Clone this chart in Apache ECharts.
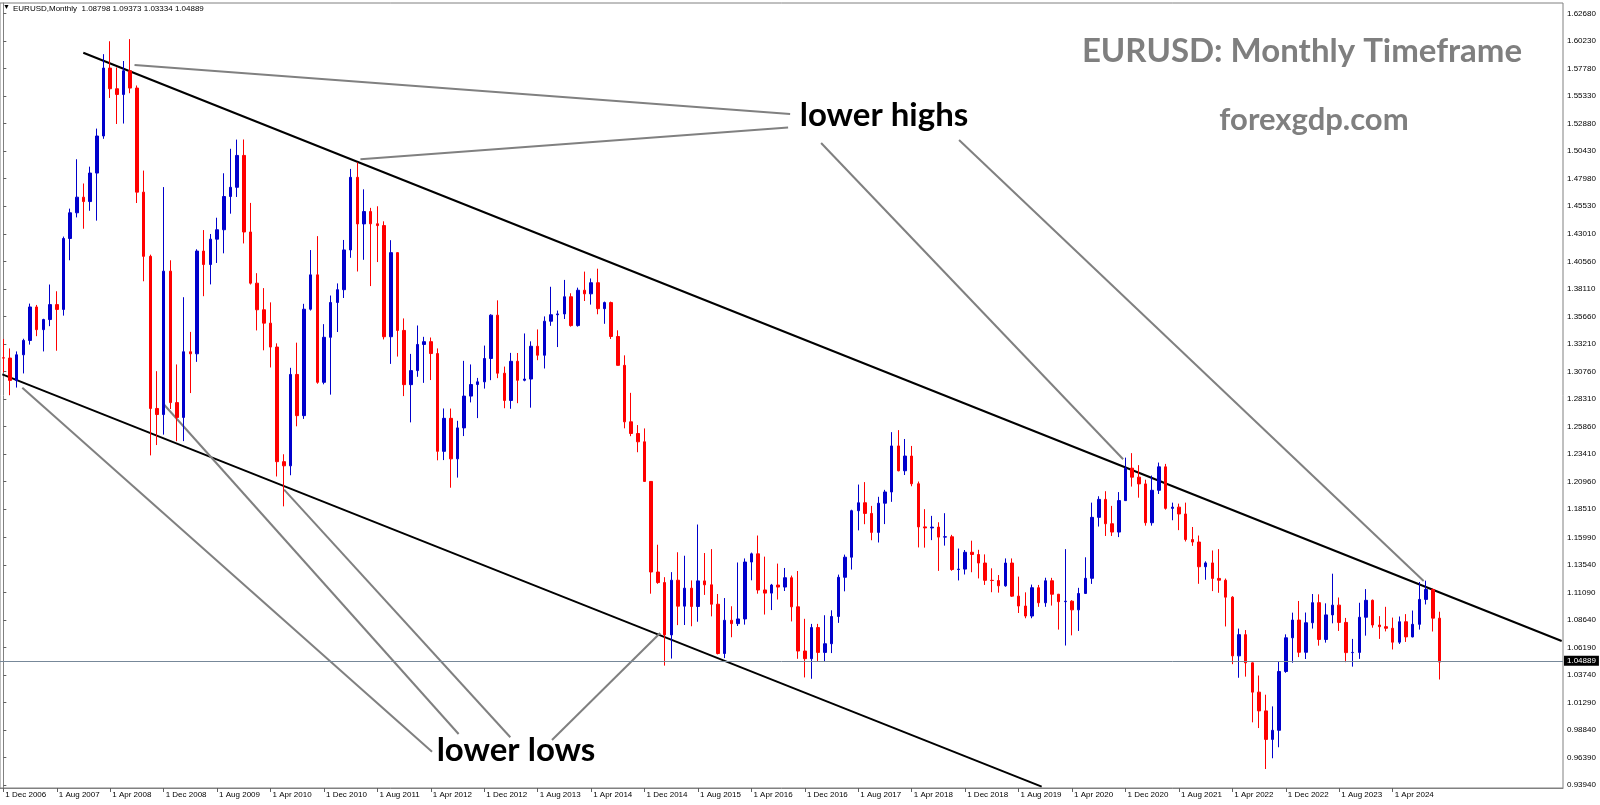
<!DOCTYPE html>
<html><head><meta charset="utf-8">
<script src="https://cdn.jsdelivr.net/npm/echarts@6/dist/echarts.min.js"></script>
<style>html,body{margin:0;padding:0;background:#fff;}#c{width:1600px;height:805px;}</style>
</head><body><div id="c"></div>
<script>
// ---------- data ----------
const monthNames = ['Jan','Feb','Mar','Apr','May','Jun','Jul','Aug','Sep','Oct','Nov','Dec'];
const firstYear = 2006, firstMonth = 11;   // Dec 2006
const slotCount = 234;                      // months shown on the time axis (incl. empty right margin)
const categories = [];
for (let i = 0; i < slotCount; i++) {
  const m = (firstMonth + i) % 12, y = firstYear + Math.floor((firstMonth + i) / 12);
  categories.push('1 ' + monthNames[m] + ' ' + y);
}
// monthly EURUSD [open, high, low, close], Dec 2006 .. Nov 2024
const ohlc = [
[1.3199,1.3367,1.3068,1.3197],
[1.3197,1.3283,1.2866,1.2998],[1.2998,1.3256,1.2934,1.3226],[1.3226,1.3369,1.3060,1.3354],[1.3354,1.3682,1.3317,1.3652],
[1.3652,1.3670,1.3392,1.3450],[1.3450,1.3547,1.3256,1.3540],[1.3540,1.3852,1.3481,1.3673],[1.3673,1.3792,1.3262,1.3630],
[1.3630,1.4279,1.3575,1.4262],[1.4262,1.4528,1.4068,1.4491],[1.4491,1.4968,1.4450,1.4630],[1.4630,1.4752,1.4349,1.4591],
[1.4591,1.4902,1.4509,1.4845],[1.4845,1.5241,1.4421,1.5175],[1.5175,1.5904,1.5150,1.5780],[1.5780,1.6019,1.5514,1.5596],
[1.5596,1.5785,1.5282,1.5545],[1.5545,1.5843,1.5286,1.5756],[1.5756,1.6038,1.5556,1.5602],[1.5602,1.5625,1.4578,1.4675],
[1.4675,1.4867,1.3881,1.4103],[1.4103,1.4118,1.2330,1.2748],[1.2748,1.3080,1.2422,1.2694],[1.2694,1.4720,1.2515,1.3971],
[1.3971,1.4068,1.2743,1.2800],[1.2800,1.3140,1.2456,1.2668],[1.2668,1.3739,1.2457,1.3253],[1.3253,1.3430,1.2885,1.3235],
[1.3235,1.4166,1.3163,1.4150],[1.4150,1.4337,1.3748,1.4030],[1.4030,1.4302,1.3853,1.4256],[1.4256,1.4447,1.4044,1.4340],
[1.4340,1.4843,1.4130,1.4636],[1.4636,1.5061,1.4483,1.4718],[1.4718,1.5143,1.4632,1.5002],[1.5002,1.5144,1.4218,1.4320],
[1.4320,1.4579,1.3852,1.3864],[1.3864,1.3953,1.3443,1.3627],[1.3627,1.3820,1.3266,1.3508],[1.3508,1.3693,1.3113,1.3295],
[1.3295,1.3328,1.2142,1.2274],[1.2274,1.2340,1.1876,1.2237],[1.2237,1.3110,1.2153,1.3051],[1.3051,1.3334,1.2589,1.2684],
[1.2684,1.3680,1.2655,1.3632],[1.3632,1.4159,1.3620,1.3938],[1.3938,1.4283,1.2968,1.2981],[1.2981,1.3499,1.2963,1.3382],
[1.3382,1.3754,1.2871,1.3692],[1.3692,1.3862,1.3429,1.3806],[1.3806,1.4249,1.3732,1.4160],[1.4160,1.4882,1.4090,1.4807],
[1.4807,1.4940,1.3968,1.4392],[1.4392,1.4700,1.4072,1.4502],[1.4502,1.4535,1.3838,1.4393],[1.4393,1.4549,1.4052,1.4377],
[1.4377,1.4415,1.3363,1.3387],[1.3387,1.4247,1.3145,1.4136],[1.4136,1.4140,1.3210,1.3443],[1.3443,1.3550,1.2858,1.2960],
[1.2960,1.3234,1.2624,1.3085],[1.3085,1.3487,1.3030,1.3318],[1.3318,1.3386,1.2976,1.3343],[1.3343,1.3380,1.3001,1.3237],
[1.3237,1.3283,1.2286,1.2366],[1.2366,1.2748,1.2288,1.2660],[1.2660,1.2747,1.2042,1.2299],[1.2299,1.2638,1.2132,1.2575],
[1.2575,1.3172,1.2502,1.2858],[1.2858,1.3140,1.2802,1.2961],[1.2961,1.3020,1.2662,1.2985],[1.2985,1.3308,1.2925,1.3193],
[1.3193,1.3587,1.3000,1.3579],[1.3579,1.3711,1.3018,1.3062],[1.3062,1.3121,1.2750,1.2819],[1.2819,1.3243,1.2745,1.3168],
[1.3168,1.3242,1.2795,1.2999],[1.2999,1.3416,1.2990,1.3010],[1.3010,1.3346,1.2755,1.3302],[1.3302,1.3452,1.3178,1.3222],
[1.3222,1.3568,1.3104,1.3525],[1.3525,1.3832,1.3484,1.3583],[1.3583,1.3620,1.3295,1.3590],[1.3590,1.3893,1.3545,1.3743],
[1.3743,1.3774,1.3477,1.3486],[1.3486,1.3824,1.3477,1.3801],[1.3801,1.3967,1.3705,1.3769],[1.3769,1.3906,1.3673,1.3868],
[1.3868,1.3993,1.3587,1.3637],[1.3637,1.3700,1.3502,1.3691],[1.3691,1.3700,1.3367,1.3389],[1.3389,1.3444,1.3130,1.3132],
[1.3132,1.3221,1.2571,1.2629],[1.2629,1.2887,1.2501,1.2525],[1.2525,1.2600,1.2358,1.2451],[1.2451,1.2570,1.2097,1.2098],
[1.2098,1.2100,1.1098,1.1291],[1.1291,1.1534,1.1186,1.1197],[1.1197,1.1245,1.0457,1.0731],[1.0731,1.1290,1.0520,1.1218],
[1.1218,1.1467,1.0818,1.0987],[1.0987,1.1436,1.0819,1.1147],[1.1147,1.1216,1.0808,1.0984],[1.0984,1.1714,1.0848,1.1212],
[1.1212,1.1460,1.1087,1.1177],[1.1177,1.1495,1.0896,1.1004],[1.1004,1.1095,1.0557,1.0565],[1.0565,1.1059,1.0524,1.0861],
[1.0861,1.0986,1.0710,1.0831],[1.0831,1.1376,1.0810,1.0873],[1.0873,1.1412,1.0822,1.1380],[1.1380,1.1464,1.1217,1.1453],
[1.1453,1.1616,1.1098,1.1131],[1.1131,1.1428,1.0912,1.1103],[1.1103,1.1185,1.0952,1.1175],[1.1175,1.1366,1.1046,1.1157],
[1.1157,1.1327,1.1122,1.1240],[1.1240,1.1259,1.0851,1.0981],[1.0981,1.1300,1.0518,1.0587],[1.0587,1.0874,1.0352,1.0519],
[1.0519,1.0829,1.0340,1.0796],[1.0796,1.0829,1.0494,1.0575],[1.0575,1.0906,1.0494,1.0652],[1.0652,1.0950,1.0569,1.0895],
[1.0895,1.1268,1.0838,1.1244],[1.1244,1.1446,1.1119,1.1423],[1.1423,1.1846,1.1313,1.1837],[1.1837,1.2070,1.1662,1.1908],
[1.1908,1.2092,1.1717,1.1813],[1.1813,1.1880,1.1574,1.1644],[1.1644,1.1961,1.1554,1.1904],[1.1904,1.2023,1.1718,1.2004],
[1.2004,1.2537,1.1916,1.2414],[1.2414,1.2555,1.2188,1.2193],[1.2193,1.2476,1.2155,1.2324],[1.2324,1.2414,1.2055,1.2077],
[1.2077,1.2097,1.1510,1.1693],[1.1693,1.1851,1.1508,1.1684],[1.1684,1.1791,1.1575,1.1691],[1.1691,1.1734,1.1301,1.1602],
[1.1602,1.1815,1.1526,1.1605],[1.1605,1.1622,1.1302,1.1313],[1.1313,1.1500,1.1216,1.1317],[1.1317,1.1487,1.1269,1.1467],
[1.1467,1.1570,1.1289,1.1447],[1.1447,1.1489,1.1234,1.1371],[1.1371,1.1448,1.1176,1.1217],[1.1217,1.1324,1.1111,1.1215],
[1.1215,1.1264,1.1107,1.1168],[1.1168,1.1412,1.1160,1.1371],[1.1371,1.1412,1.1069,1.1076],[1.1076,1.1250,1.0926,1.0988],
[1.0988,1.1110,1.0879,1.0899],[1.0899,1.1179,1.0879,1.1151],[1.1151,1.1176,1.0981,1.1017],[1.1017,1.1240,1.0981,1.1213],
[1.1213,1.1239,1.0992,1.1093],[1.1093,1.1096,1.0778,1.1027],[1.1027,1.1495,1.0636,1.1031],[1.1031,1.1040,1.0727,1.0954],
[1.0954,1.1150,1.0766,1.1100],[1.1100,1.1422,1.1095,1.1235],[1.1235,1.1909,1.1185,1.1778],[1.1778,1.1966,1.1696,1.1938],
[1.1938,1.2011,1.1612,1.1721],[1.1721,1.1880,1.1612,1.1647],[1.1647,1.2003,1.1602,1.1927],[1.1927,1.2310,1.1924,1.2216],
[1.2216,1.2350,1.2052,1.2136],[1.2136,1.2243,1.1953,1.2076],[1.2076,1.2113,1.1704,1.1730],[1.1730,1.2150,1.1704,1.2019],
[1.2019,1.2266,1.1986,1.2228],[1.2228,1.2254,1.1847,1.1858],[1.1858,1.1909,1.1752,1.1869],[1.1869,1.1900,1.1664,1.1808],
[1.1808,1.1909,1.1563,1.1580],[1.1580,1.1692,1.1524,1.1558],[1.1558,1.1616,1.1186,1.1338],[1.1338,1.1386,1.1222,1.1372],
[1.1372,1.1483,1.1121,1.1234],[1.1234,1.1495,1.1106,1.1218],[1.1218,1.1233,1.0806,1.1067],[1.1067,1.1076,1.0470,1.0544],
[1.0544,1.0787,1.0349,1.0733],[1.0733,1.0774,1.0359,1.0482],[1.0482,1.0486,0.9952,1.0221],[1.0221,1.0369,0.9901,1.0054],
[1.0054,1.0198,0.9536,0.9800],[0.9800,1.0094,0.9632,0.9881],[0.9881,1.0497,0.9730,1.0405],[1.0405,1.0736,1.0393,1.0705],
[1.0705,1.0929,1.0483,1.0863],[1.0863,1.1033,1.0533,1.0576],[1.0576,1.0930,1.0516,1.0839],[1.0839,1.1095,1.0787,1.1018],
[1.1018,1.1092,1.0635,1.0690],[1.0690,1.1012,1.0662,1.0909],[1.0909,1.1276,1.0834,1.0996],[1.0996,1.1064,1.0766,1.0842],
[1.0842,1.0882,1.0488,1.0573],[1.0573,1.0695,1.0448,1.0575],[1.0575,1.1017,1.0517,1.0888],[1.0888,1.1139,1.0724,1.1039],
[1.1039,1.1046,1.0795,1.0819],[1.0819,1.0898,1.0695,1.0804],[1.0804,1.0981,1.0762,1.0790],[1.0790,1.0885,1.0601,1.0666],
[1.0666,1.0895,1.0650,1.0848],[1.0848,1.0916,1.0668,1.0713],[1.0713,1.0948,1.0709,1.0825],[1.0825,1.1202,1.0778,1.1047],
[1.1047,1.1214,1.1002,1.1135],[1.1135,1.1144,1.0761,1.0880],[1.08798,1.09373,1.03334,1.04889]
];
const lastPrice = 1.04889;
const headerText = 'EURUSD,Monthly  1.08798 1.09373 1.03334 1.04889';
const yTicks = [1.62680,1.60230,1.57780,1.55330,1.52880,1.50430,1.47980,1.45530,1.43010,1.40560,1.38110,1.35660,
  1.33210,1.30760,1.28310,1.25860,1.23410,1.20960,1.18510,1.15990,1.13540,1.11090,1.08640,1.06190,1.03740,
  1.01290,0.98840,0.96390,0.93940];
// trend lines in (month index, price)
const channelLines = [
  [[11.97,1.5917],[233.3,1.0676]],
  [[-0.15,1.3052],[155.45,0.9379]]
];
const pointerLines = [
  [[19.64,1.5807],[117.79,1.5370]],
  [[53.46,1.4967],[117.49,1.5251]],
  [[122.43,1.5113],[167.65,1.2295]],
  [[143.08,1.5139],[212.64,1.1211]],
  [[2.84,1.2933],[64.18,0.9690]],
  [[23.98,1.2788],[68.16,0.9848]],
  [[42.03,1.2025],[75.90,0.9819]],
  [[82.14,0.9795],[98.34,1.0748]]
];

// ---------- chart ----------
const chart = echarts.init(document.getElementById('c'), null, {renderer:'canvas'});
const AX = 'Liberation Sans, Arial, sans-serif';
const showIdx = (i) => i % 8 === 0 && i < ohlc.length;
const candleData = ohlc.map(r => [r[0], r[3], r[2], r[1]]);
const BIG = 'Lato, "Open Sans", sans-serif';

chart.setOption({
  animation: false,
  backgroundColor: '#ffffff',
  grid: {left: 0, top: 3, width: 1563, height: 785, show: true, borderColor: '#808080', borderWidth: 1, backgroundColor: 'transparent'},
  xAxis: [{
    type: 'category', data: categories, boundaryGap: true,
    axisLine: {show: true, lineStyle: {color: '#808080', width: 1}},
    axisTick: {show: true, interval: showIdx, alignWithLabel: true, length: 4, lineStyle: {color: '#606060'}},
    axisLabel: {interval: showIdx, align: 'left', margin: 3, padding: [0,0,0,2], fontSize: 8, fontFamily: AX, color: '#000'},
    splitLine: {show: false}
  }, {
    type: 'value', min: -0.5, max: slotCount - 0.5, show: false
  }],
  yAxis: {
    type: 'value', position: 'right', min: 0.93670, max: 1.63598, scale: true,
    axisLine: {show: true, lineStyle: {color: '#808080', width: 1}},
    axisTick: {show: true, customValues: yTicks, length: 3, lineStyle: {color: '#606060'}},
    axisLabel: {customValues: yTicks, formatter: v => v.toFixed(5), fontSize: 8, fontFamily: AX, color: '#000', margin: 4},
    splitLine: {show: false}
  },
  series: [{
    type: 'candlestick', data: candleData, barWidth: 3,
    itemStyle: {color: '#0000CC', color0: '#FF0000', borderColor: '#0000CC', borderColor0: '#FF0000', borderWidth: 1},
    markLine: {
      silent: true, symbol: ['none','none'], animation: false,
      data: [{yAxis: lastPrice}],
      lineStyle: {color: '#778899', width: 1, type: 'solid'},
      label: {show: true, position: 'end', distance: 1, formatter: lastPrice.toFixed(5), color: '#fff', backgroundColor: '#000',
        padding: [1,3,1,3], fontSize: 8, fontFamily: AX}
    }
  }, {
    type: 'lines', coordinateSystem: 'cartesian2d', xAxisIndex: 1, yAxisIndex: 0, silent: true,
    data: channelLines.map(c => ({coords: c})),
    lineStyle: {color: '#000000', width: 2, opacity: 1}
  }, {
    type: 'lines', coordinateSystem: 'cartesian2d', xAxisIndex: 1, yAxisIndex: 0, silent: true,
    data: pointerLines.map(c => ({coords: c})),
    lineStyle: {color: '#808080', width: 2, opacity: 1}
  }],
  graphic: [
    {type: 'text', left: 3, top: 4, style: {text: '▼', font: '7px ' + AX, fill: '#000'}},
    {type: 'text', x: 13, y: 8.5, style: {text: headerText, font: '8px ' + AX, fill: '#000', verticalAlign: 'middle'}},
    {type: 'text', x: 1302, y: 51, style: {text: 'EURUSD: Monthly Timeframe', font: 'bold 33px ' + BIG, fill: '#7f7f7f', align: 'center', verticalAlign: 'middle'}},
    {type: 'text', x: 1314, y: 120, style: {text: 'forexgdp.com', font: 'bold 31px ' + BIG, fill: '#7f7f7f', align: 'center', verticalAlign: 'middle'}},
    {type: 'text', x: 884, y: 115, style: {text: 'lower highs', font: 'bold 33px ' + BIG, fill: '#000', align: 'center', verticalAlign: 'middle'}},
    {type: 'text', x: 516, y: 750, style: {text: 'lower lows', font: 'bold 33px ' + BIG, fill: '#000', align: 'center', verticalAlign: 'middle'}}
  ]
});
</script></body></html>
